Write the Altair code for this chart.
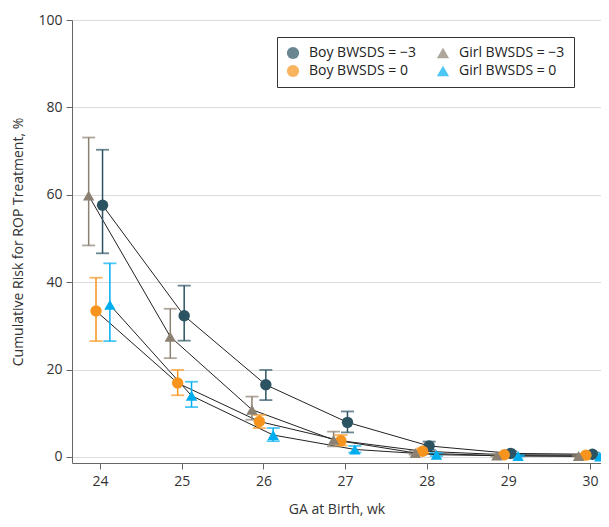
import altair as alt
import pandas as pd

weeks = [24, 25, 26, 27, 28, 29, 30]
series_names = ["Boy BWSDS = −3", "Boy BWSDS = 0", "Girl BWSDS = −3", "Girl BWSDS = 0"]
offsets = [0.03, -0.05, -0.14, 0.12]

boy_m3 = [57.6, 32.3, 16.5, 7.9, 2.5, 0.8, 0.6]
boy_m3_lo = [46.6, 26.6, 13.0, 5.6, 1.6, 0.4, 0.3]
boy_m3_hi = [70.3, 39.2, 19.9, 10.4, 3.5, 1.3, 1.0]

boy_0 = [33.4, 16.9, 8.1, 3.7, 1.3, 0.5, 0.4]
boy_0_lo = [26.5, 14.1, 6.6, 2.6, 0.8, 0.3, 0.2]
boy_0_hi = [41.0, 19.9, 9.6, 5.0, 1.9, 0.8, 0.6]

girl_m3 = [59.8, 27.5, 10.8, 3.9, 0.9, 0.3, 0.2]
girl_m3_lo = [48.4, 22.6, 8.5, 2.4, 0.5, 0.1, 0.1]
girl_m3_hi = [73.1, 33.9, 13.8, 5.8, 1.4, 0.6, 0.4]

girl_0 = [34.8, 14.0, 5.0, 1.7, 0.5, 0.2, 0.1]
girl_0_lo = [26.5, 11.4, 3.6, 1.0, 0.2, 0.1, 0.0]
girl_0_hi = [44.3, 17.2, 6.6, 2.5, 0.9, 0.4, 0.3]

vals = [(boy_m3, boy_m3_lo, boy_m3_hi), (boy_0, boy_0_lo, boy_0_hi),
        (girl_m3, girl_m3_lo, girl_m3_hi), (girl_0, girl_0_lo, girl_0_hi)]

rows = []
for name, off, (m, lo, hi) in zip(series_names, offsets, vals):
    for w, a, b, c in zip(weeks, m, lo, hi):
        rows.append({"series": name, "x": w + off, "risk": a, "lo": b, "hi": c})
df = pd.DataFrame(rows)

point_colors = ["#2b5362", "#f7941d", "#8b8071", "#00aeef"]
shapes = ["circle", "circle", "triangle-up", "triangle-up"]

FONT = "Open Sans"
xs = alt.Scale(domain=[23.656, 30.135], nice=False, zero=False)
ys = alt.Scale(domain=[-1.4, 100], nice=False, zero=False)

base = alt.Chart(df)

xenc = alt.X("x:Q", scale=xs,
             axis=alt.Axis(values=weeks, title="GA at Birth, wk", grid=False, format="d",
                           domainColor="#666", tickColor="#666", tickSize=6,
                           labelFontSize=14, titleFontSize=14, labelColor="#333",
                           titleColor="#333", titleFontWeight="normal", labelPadding=5,
                           titlePadding=14, labelFont=FONT, titleFont=FONT))
yenc = alt.Y("risk:Q", scale=ys,
             axis=alt.Axis(values=[0, 20, 40, 60, 80, 100], title="Cumulative Risk for ROP Treatment, %",
                           grid=True, gridColor="#dcdcdc", domainColor="#666", tickColor="#666",
                           tickSize=6, labelFontSize=14, titleFontSize=14, labelColor="#333",
                           titleColor="#333", titleFontWeight="normal", labelPadding=4,
                           titlePadding=12, labelFont=FONT, titleFont=FONT))

legend = alt.Legend(title=None, orient="none", legendX=205, legendY=17,
                    columns=2, columnPadding=20, rowPadding=4,
                    strokeColor="#333", padding=9, labelFontSize=14,
                    labelFont=FONT, labelColor="#222", symbolSize=150,
                    labelOffset=9, symbolStrokeWidth=0, fillColor="white")

color_enc = alt.Color("series:N", scale=alt.Scale(domain=series_names, range=point_colors), legend=legend)

lines = base.mark_line(color="#222", strokeWidth=1).encode(
    x=xenc, y=yenc, detail="series:N", order="x:Q")

bars = base.mark_rule(strokeWidth=1.5).encode(
    x="x:Q", y="lo:Q", y2="hi:Q", color=color_enc)

caps_lo = base.mark_tick(orient="horizontal", size=13, thickness=1.8).encode(
    x="x:Q", y="lo:Q", color=color_enc)
caps_hi = base.mark_tick(orient="horizontal", size=13, thickness=1.8).encode(
    x="x:Q", y="hi:Q", color=color_enc)

points = base.mark_point(filled=True, opacity=1, size=130).encode(
    x="x:Q", y="risk:Q",
    color=color_enc,
    shape=alt.Shape("series:N", scale=alt.Scale(domain=series_names, range=shapes), legend=legend))

chart = alt.layer(lines, bars, caps_lo, caps_hi, points).properties(
    width=529, height=443,
    autosize=alt.AutoSizeParams(type="none"),
    padding={"left": 64, "top": 12, "right": 0, "bottom": 56},
).configure_view(stroke=None)

chart.save("out.html", embed_options={"renderer": "svg", "actions": False})
